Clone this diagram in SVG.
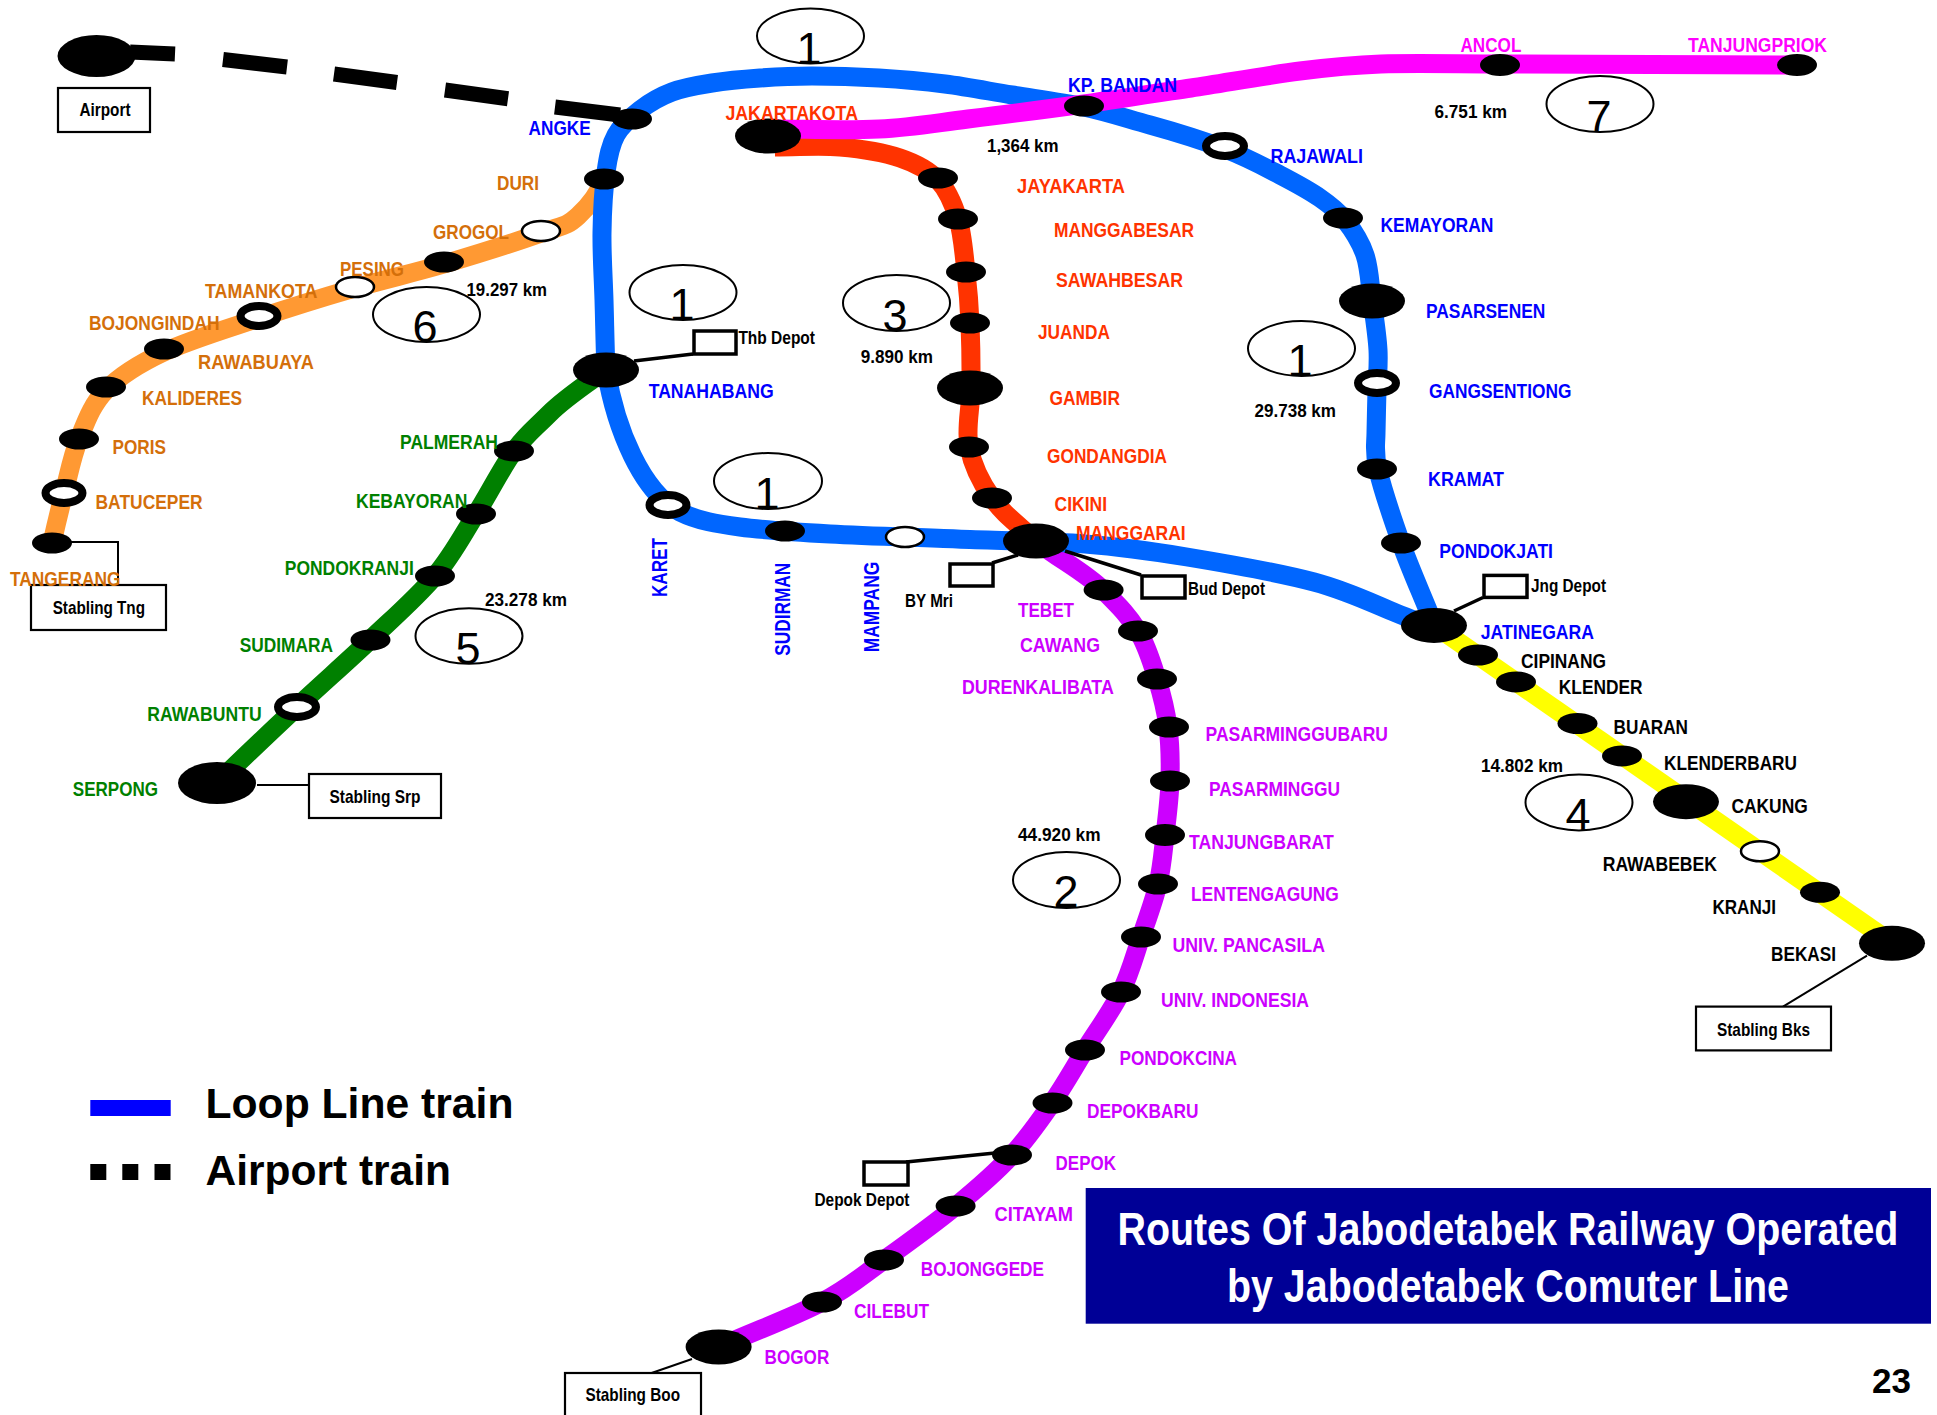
<svg xmlns="http://www.w3.org/2000/svg" width="1937" height="1415" viewBox="0 0 1937 1415">
<style>
text{font-family:"Liberation Sans",Arial,sans-serif;font-weight:bold;font-size:19.5px}
.line{fill:none;stroke-width:19;stroke-linecap:butt;stroke-linejoin:round}
.loop{stroke:#0066ff}.red{stroke:#ff3300}.mag{stroke:#ff00ff}.ora{stroke:#ff9933}.grn{stroke:#008000}.pur{stroke:#cc00ff}.yel{stroke:#ffff00}
.air{fill:none;stroke:#000;stroke-width:15}
.lk{fill:none;stroke:#000;stroke-width:2}
.lk3{fill:none;stroke:#000;stroke-width:3.5}
.st{fill:#000}
.op{fill:#fff;stroke:#000;stroke-width:2.5}
.rg{fill:#fff;stroke:#000;stroke-width:8}
.box{fill:#fff;stroke:#000;stroke-width:2.2}
.dep{fill:#fff;stroke:#000;stroke-width:3.5}
.num{fill:#fff;fill-opacity:0;stroke:#000;stroke-width:2}
.n{font-weight:normal;font-size:45px;text-anchor:middle;fill:#000}
.k{fill:#000;font-size:19px}
.d{fill:#000;font-size:18.5px}
.tb{fill:#0000ff}.tr{fill:#ff3300}.tm{fill:#ff00ff}.to{fill:#d46f0a}.tg{fill:#008000}.tp{fill:#cc00ff}.tk{fill:#000}
.v{font-size:22px}
.ti{fill:#fff;font-size:46px}
.lg{fill:#000;font-size:43px}
</style>
<rect width="1937" height="1415" fill="#fff"/>
<g id="connectors">
<path id="line-airport" class="air" d="M130,52L175,54M223,59.5L287,67M334,74L397,82.5M445,90L508,98.7M555,107L620,115"/>
<path id="line-orange" class="line ora" d="M604,179C598,195 590,205 578,216S563.3,225 541,233S475,254.8 444,264S385.8,279 355,288S290.8,307.3 259,318S189.5,340 164,352S120.2,375.5 106,390S86,421.8 79,439S68.5,475.7 64,493S56,525 52,543"/>
<path id="line-green" class="line grn" d="M606,370C585,385 565,398 549,414S526.2,434.3 514,451S489.2,493.2 476,514S452.7,555 435,576S393,618.2 370,640S322.5,683.2 297,707S243,758 217,783"/>
<path id="line-yellow" class="line yel" d="M1434,625L1892,943"/>
<path id="line-red" class="line red" d="M775,147C800,147 819.2,145.2 840,147S883.7,152.5 900,158S928.3,169.8 938,180S953.3,203.7 958,219S964,254.7 966,272S969.2,303.7 970,323S971.2,367.3 971,388S965.5,428.7 969,447S980.8,482.3 992,498S1015,522 1036,541"/>
<path id="line-purple" class="line pur" d="M1036,541C1060,560 1085,572 1103,590S1129,616.2 1138,631S1152,663 1157,679S1165.8,710 1168,727S1170.5,763 1170,781S1167,817.8 1165,835S1162,867 1158,884S1147.2,919 1141,937S1130.3,973.2 1121,992S1096.5,1031.5 1085,1050S1064.2,1085.5 1052,1103S1028,1137.8 1012,1155S977.3,1188.5 956,1206S906.3,1244 884,1260S849.5,1287.5 822,1302S760,1329 719,1347"/>
<path id="line-loop-north" class="line loop" d="M606,370C605,347 604.7,322.8 604,300S601.7,254.3 602,233S603.7,188.3 606,172S610.3,145.3 616,135S630.7,117.2 640,110S660,96.5 672,92S697.3,85.3 712,83S743.3,79.2 760,78S792.2,76 812,76S856.8,76.7 879,78S922.8,81.2 945,84S988.8,91.2 1012,95S1061,102 1084,107S1126.5,118.5 1150,125S1203.3,140.7 1225,149S1264.2,166.8 1280,175S1309.2,190.5 1320,198S1337.5,210.5 1345,220S1360.5,241.7 1365,255S1369.8,284.2 1372,300S1377.2,335 1378,350S1377.3,376.2 1377,390S1376.2,419.7 1376,433S1373.8,451.8 1378,470S1391.7,516.7 1401,543S1423,597 1434,625"/>
<path id="line-loop-south" class="line loop" d="M606,370C616,430 642,492 680,512C698,521 718,524 740,527S793.8,532 830,534S914.5,537.3 957,539S1046.7,541 1085,544S1148.8,550.7 1187,557S1279.2,572.7 1314,582S1376,605 1396,613S1420,622 1434,630"/>
<path id="line-magenta" class="line mag" d="M770,129C805,129 846,130.7 879,129S933.8,123.2 968,119S1046.8,109.2 1084,104S1155,93.5 1191,88S1268.3,75 1300,71S1347.7,65.2 1381,64S1460,64 1500,64L1797,65"/>
<path class="lk3" d="M634,361L693,354"/>
<path class="lk3" d="M992,563L1018,555"/>
<path class="lk3" d="M1065,551L1141,575"/>
<path class="lk3" d="M1454,611L1483,597.5"/>
<path class="lk3" d="M906,1162L995,1153"/>
<path class="lk" d="M71,542H118V585"/>
<path class="lk" d="M257,785H309"/>
<path class="lk" d="M1867,955.7L1783,1006.6"/>
<path class="lk" d="M651.6,1373L692,1359"/>
</g>
<g id="airport"><ellipse class="st" cx="96.5" cy="56" rx="39" ry="21"/><rect class="box" x="58" y="88" width="92" height="44"/><text class="d" x="79.5" y="116" textLength="51" lengthAdjust="spacingAndGlyphs">Airport</text></g>
<g id="st-angke"><ellipse class="st" cx="632" cy="119" rx="20" ry="10.5"/><text class="tb" x="528.6" y="134.7" textLength="62" lengthAdjust="spacingAndGlyphs">ANGKE</text></g>
<g id="st-duri"><ellipse class="st" cx="604" cy="179" rx="20" ry="10.5"/><text class="to" x="497" y="190" textLength="42" lengthAdjust="spacingAndGlyphs">DURI</text></g>
<g id="st-grogol"><ellipse class="st" cx="444" cy="262" rx="20" ry="10.5"/><ellipse class="op" cx="541" cy="231" rx="19" ry="10"/><text class="to" x="433" y="239" textLength="76" lengthAdjust="spacingAndGlyphs">GROGOL</text></g>
<g id="st-pesing"><ellipse class="op" cx="355" cy="287" rx="19" ry="10"/><text class="to" x="340" y="275.7" textLength="64" lengthAdjust="spacingAndGlyphs">PESING</text></g>
<g id="st-tamankota"><ellipse class="rg" cx="259" cy="316" rx="18.5" ry="10"/><text class="to" x="205" y="298" textLength="112.4" lengthAdjust="spacingAndGlyphs">TAMANKOTA</text></g>
<g id="st-bojongindah"><ellipse class="st" cx="164" cy="349" rx="20" ry="10.5"/><text class="to" x="89" y="330" textLength="130.6" lengthAdjust="spacingAndGlyphs">BOJONGINDAH</text></g>
<g id="st-rawabuaya"><ellipse class="st" cx="106" cy="387" rx="20" ry="10.5"/><text class="to" x="198" y="369" textLength="116" lengthAdjust="spacingAndGlyphs">RAWABUAYA</text></g>
<g id="st-kalideres"><ellipse class="st" cx="79" cy="439" rx="20" ry="10.5"/><text class="to" x="142" y="405" textLength="100" lengthAdjust="spacingAndGlyphs">KALIDERES</text></g>
<g id="st-poris"><ellipse class="rg" cx="64" cy="493" rx="18.5" ry="10"/><text class="to" x="112.5" y="454" textLength="53.5" lengthAdjust="spacingAndGlyphs">PORIS</text></g>
<g id="st-batuceper"><ellipse class="st" cx="52" cy="543" rx="20" ry="10.5"/><text class="to" x="95.5" y="509" textLength="107.2" lengthAdjust="spacingAndGlyphs">BATUCEPER</text></g>
<g id="depot-stabling-tng"><rect class="box" x="31" y="585" width="135" height="45"/><text class="d" x="52.7" y="614" textLength="92.3" lengthAdjust="spacingAndGlyphs">Stabling Tng</text></g>
<g id="st-tangerang"><text class="to" x="10" y="585.7" textLength="110.5" lengthAdjust="spacingAndGlyphs">TANGERANG</text></g>
<g id="st-tanahabang"><ellipse class="st" cx="606" cy="370" rx="33" ry="17.5"/><text class="tb" x="648.7" y="398" textLength="125" lengthAdjust="spacingAndGlyphs">TANAHABANG</text></g>
<g id="st-palmerah"><ellipse class="st" cx="514" cy="451" rx="20" ry="10.5"/><text class="tg" x="400" y="449" textLength="98" lengthAdjust="spacingAndGlyphs">PALMERAH</text></g>
<g id="st-kebayoran"><ellipse class="st" cx="476" cy="514" rx="20" ry="10.5"/><text class="tg" x="356" y="508.3" textLength="111.4" lengthAdjust="spacingAndGlyphs">KEBAYORAN</text></g>
<g id="st-pondokranji"><ellipse class="st" cx="435" cy="576" rx="20" ry="10.5"/><text class="tg" x="284.8" y="575" textLength="129" lengthAdjust="spacingAndGlyphs">PONDOKRANJI</text></g>
<g id="st-sudimara"><ellipse class="st" cx="370.5" cy="640" rx="20" ry="10.5"/><text class="tg" x="239.7" y="652" textLength="93.3" lengthAdjust="spacingAndGlyphs">SUDIMARA</text></g>
<g id="st-rawabuntu"><ellipse class="rg" cx="297" cy="707" rx="19" ry="10"/><text class="tg" x="147.3" y="721" textLength="114.3" lengthAdjust="spacingAndGlyphs">RAWABUNTU</text></g>
<g id="st-serpong"><ellipse class="st" cx="217" cy="783" rx="39" ry="21"/><text class="tg" x="72.8" y="796" textLength="85.2" lengthAdjust="spacingAndGlyphs">SERPONG</text></g>
<g id="depot-stabling-srp"><rect class="box" x="309" y="774" width="132" height="44"/><text class="d" x="329.5" y="803" textLength="91" lengthAdjust="spacingAndGlyphs">Stabling Srp</text></g>
<g id="st-karet"><ellipse class="rg" cx="668" cy="505" rx="18.5" ry="10"/><text class="tb v" transform="translate(667,597) rotate(-90)" textLength="59" lengthAdjust="spacingAndGlyphs">KARET</text></g>
<g id="st-sudirman"><ellipse class="st" cx="785" cy="531" rx="20" ry="10.5"/><text class="tb v" transform="translate(790,655.7) rotate(-90)" textLength="93" lengthAdjust="spacingAndGlyphs">SUDIRMAN</text></g>
<g id="st-mampang"><ellipse class="op" cx="905" cy="537" rx="19" ry="10"/><text class="tb v" transform="translate(879,652.3) rotate(-90)" textLength="90.6" lengthAdjust="spacingAndGlyphs">MAMPANG</text></g>
<g id="st-jakartakota"><ellipse class="st" cx="768" cy="136" rx="33" ry="17.5"/><text class="tr" x="725.4" y="120" textLength="132.6" lengthAdjust="spacingAndGlyphs">JAKARTAKOTA</text></g>
<g id="st-jayakarta"><ellipse class="st" cx="938" cy="178" rx="20" ry="10.5"/><text class="tr" x="1017" y="192.7" textLength="108" lengthAdjust="spacingAndGlyphs">JAYAKARTA</text></g>
<g id="st-manggabesar"><ellipse class="st" cx="958" cy="219" rx="20" ry="10.5"/><text class="tr" x="1054" y="236.7" textLength="140" lengthAdjust="spacingAndGlyphs">MANGGABESAR</text></g>
<g id="st-sawahbesar"><ellipse class="st" cx="966" cy="272" rx="20" ry="10.5"/><text class="tr" x="1056" y="287" textLength="127" lengthAdjust="spacingAndGlyphs">SAWAHBESAR</text></g>
<g id="st-juanda"><ellipse class="st" cx="970" cy="323" rx="20" ry="10.5"/><text class="tr" x="1038" y="339" textLength="72" lengthAdjust="spacingAndGlyphs">JUANDA</text></g>
<g id="st-gambir"><ellipse class="st" cx="970" cy="388" rx="33" ry="17.5"/><text class="tr" x="1049.5" y="405" textLength="70.5" lengthAdjust="spacingAndGlyphs">GAMBIR</text></g>
<g id="st-gondangdia"><ellipse class="st" cx="969" cy="447" rx="20" ry="10.5"/><text class="tr" x="1047" y="462.7" textLength="120" lengthAdjust="spacingAndGlyphs">GONDANGDIA</text></g>
<g id="st-cikini"><ellipse class="st" cx="992" cy="498" rx="20" ry="10.5"/><text class="tr" x="1054.6" y="510.7" textLength="52.4" lengthAdjust="spacingAndGlyphs">CIKINI</text></g>
<g id="st-kp-bandan"><ellipse class="st" cx="1084" cy="106" rx="20" ry="10.5"/><text class="tb" x="1068" y="92" textLength="109" lengthAdjust="spacingAndGlyphs">KP. BANDAN</text></g>
<g id="st-rajawali"><ellipse class="rg" cx="1225" cy="146" rx="19" ry="10"/><text class="tb" x="1270.5" y="163" textLength="92.5" lengthAdjust="spacingAndGlyphs">RAJAWALI</text></g>
<g id="st-kemayoran"><ellipse class="st" cx="1343" cy="218" rx="20" ry="10.5"/><text class="tb" x="1380.4" y="231.7" textLength="113" lengthAdjust="spacingAndGlyphs">KEMAYORAN</text></g>
<g id="st-pasarsenen"><ellipse class="st" cx="1372" cy="301" rx="33" ry="17.5"/><text class="tb" x="1426" y="317.7" textLength="119.4" lengthAdjust="spacingAndGlyphs">PASARSENEN</text></g>
<g id="st-gangsentiong"><ellipse class="rg" cx="1377" cy="383" rx="19" ry="10"/><text class="tb" x="1429" y="397.7" textLength="142.4" lengthAdjust="spacingAndGlyphs">GANGSENTIONG</text></g>
<g id="st-kramat"><ellipse class="st" cx="1377" cy="469" rx="20" ry="10.5"/><text class="tb" x="1428" y="485.7" textLength="76" lengthAdjust="spacingAndGlyphs">KRAMAT</text></g>
<g id="st-pondokjati"><ellipse class="st" cx="1401" cy="543" rx="20" ry="10.5"/><text class="tb" x="1439.3" y="557.9" textLength="113.7" lengthAdjust="spacingAndGlyphs">PONDOKJATI</text></g>
<g id="st-jatinegara"><ellipse class="st" cx="1434" cy="625.4" rx="33" ry="17.5"/><text class="tb" x="1480.8" y="638.8" textLength="113.2" lengthAdjust="spacingAndGlyphs">JATINEGARA</text></g>
<g id="st-ancol"><ellipse class="st" cx="1500" cy="65" rx="20" ry="11"/><text class="tm" x="1460.5" y="51.7" textLength="60.9" lengthAdjust="spacingAndGlyphs">ANCOL</text></g>
<g id="st-tanjungpriok"><ellipse class="st" cx="1797" cy="65" rx="20" ry="11"/><text class="tm" x="1688" y="51.7" textLength="139" lengthAdjust="spacingAndGlyphs">TANJUNGPRIOK</text></g>
<g id="st-cipinang"><ellipse class="st" cx="1478" cy="655" rx="20" ry="10.5"/><text class="tk" x="1521" y="668.1" textLength="85" lengthAdjust="spacingAndGlyphs">CIPINANG</text></g>
<g id="st-klender"><ellipse class="st" cx="1516" cy="681.9" rx="20" ry="10.5"/><text class="tk" x="1558.8" y="693.9" textLength="83.7" lengthAdjust="spacingAndGlyphs">KLENDER</text></g>
<g id="st-buaran"><ellipse class="st" cx="1577.5" cy="723.5" rx="20" ry="10.5"/><text class="tk" x="1613.6" y="733.9" textLength="74.4" lengthAdjust="spacingAndGlyphs">BUARAN</text></g>
<g id="st-klenderbaru"><ellipse class="st" cx="1622" cy="755.9" rx="20" ry="10.5"/><text class="tk" x="1664" y="769.7" textLength="133" lengthAdjust="spacingAndGlyphs">KLENDERBARU</text></g>
<g id="st-cakung"><ellipse class="st" cx="1686" cy="801.7" rx="33" ry="17.5"/><text class="tk" x="1731.4" y="812.7" textLength="76.4" lengthAdjust="spacingAndGlyphs">CAKUNG</text></g>
<g id="st-rawabebek"><ellipse class="op" cx="1760" cy="851.3" rx="19" ry="10"/><text class="tk" x="1602.7" y="870.6" textLength="114.3" lengthAdjust="spacingAndGlyphs">RAWABEBEK</text></g>
<g id="st-kranji"><ellipse class="st" cx="1820" cy="892.3" rx="20" ry="10.5"/><text class="tk" x="1712.4" y="913.7" textLength="63.6" lengthAdjust="spacingAndGlyphs">KRANJI</text></g>
<g id="st-bekasi"><ellipse class="st" cx="1892" cy="943.3" rx="33" ry="17.5"/><text class="tk" x="1771" y="960.9" textLength="65" lengthAdjust="spacingAndGlyphs">BEKASI</text></g>
<g id="depot-stabling-bks"><rect class="box" x="1696" y="1006.6" width="135" height="43.8"/><text class="d" x="1717" y="1035.9" textLength="93" lengthAdjust="spacingAndGlyphs">Stabling Bks</text></g>
<g id="st-manggarai"><ellipse class="st" cx="1036" cy="541" rx="33" ry="17.5"/><text class="tr" x="1076" y="540" textLength="109.7" lengthAdjust="spacingAndGlyphs">MANGGARAI</text></g>
<g id="st-tebet"><ellipse class="st" cx="1103.6" cy="590" rx="20" ry="10.5"/><text class="tp" x="1018" y="616.7" textLength="56" lengthAdjust="spacingAndGlyphs">TEBET</text></g>
<g id="st-cawang"><ellipse class="st" cx="1138" cy="631" rx="20" ry="10.5"/><text class="tp" x="1020" y="651.7" textLength="80" lengthAdjust="spacingAndGlyphs">CAWANG</text></g>
<g id="st-durenkalibata"><ellipse class="st" cx="1157" cy="679" rx="20" ry="10.5"/><text class="tp" x="962" y="694" textLength="151.8" lengthAdjust="spacingAndGlyphs">DURENKALIBATA</text></g>
<g id="st-pasarminggubaru"><ellipse class="st" cx="1169" cy="727" rx="20" ry="10.5"/><text class="tp" x="1205.6" y="740.7" textLength="182.4" lengthAdjust="spacingAndGlyphs">PASARMINGGUBARU</text></g>
<g id="st-pasarminggu"><ellipse class="st" cx="1170" cy="781" rx="20" ry="10.5"/><text class="tp" x="1209" y="795.7" textLength="131" lengthAdjust="spacingAndGlyphs">PASARMINGGU</text></g>
<g id="st-tanjungbarat"><ellipse class="st" cx="1165" cy="835" rx="20" ry="11"/><text class="tp" x="1189" y="848.7" textLength="144.7" lengthAdjust="spacingAndGlyphs">TANJUNGBARAT</text></g>
<g id="st-lentengagung"><ellipse class="st" cx="1158" cy="884" rx="20" ry="10.5"/><text class="tp" x="1191" y="900.7" textLength="147.8" lengthAdjust="spacingAndGlyphs">LENTENGAGUNG</text></g>
<g id="st-univ-pancasila"><ellipse class="st" cx="1141" cy="937" rx="20" ry="10.5"/><text class="tp" x="1172.4" y="951.7" textLength="152.6" lengthAdjust="spacingAndGlyphs">UNIV. PANCASILA</text></g>
<g id="st-univ-indonesia"><ellipse class="st" cx="1121" cy="992" rx="20" ry="10.5"/><text class="tp" x="1161" y="1006.7" textLength="148" lengthAdjust="spacingAndGlyphs">UNIV. INDONESIA</text></g>
<g id="st-pondokcina"><ellipse class="st" cx="1085" cy="1050" rx="20" ry="10.5"/><text class="tp" x="1119.5" y="1065" textLength="117.5" lengthAdjust="spacingAndGlyphs">PONDOKCINA</text></g>
<g id="st-depokbaru"><ellipse class="st" cx="1052.5" cy="1103" rx="20" ry="10.5"/><text class="tp" x="1087" y="1117.7" textLength="111.5" lengthAdjust="spacingAndGlyphs">DEPOKBARU</text></g>
<g id="st-depok"><ellipse class="st" cx="1012" cy="1155" rx="20" ry="10.5"/><text class="tp" x="1055.6" y="1170.3" textLength="60.4" lengthAdjust="spacingAndGlyphs">DEPOK</text></g>
<g id="st-citayam"><ellipse class="st" cx="955.6" cy="1206" rx="20" ry="10.5"/><text class="tp" x="994.5" y="1220.7" textLength="78.5" lengthAdjust="spacingAndGlyphs">CITAYAM</text></g>
<g id="st-bojonggede"><ellipse class="st" cx="884" cy="1260" rx="20" ry="10.5"/><text class="tp" x="920.8" y="1275.7" textLength="123.2" lengthAdjust="spacingAndGlyphs">BOJONGGEDE</text></g>
<g id="st-cilebut"><ellipse class="st" cx="822" cy="1302" rx="20" ry="10.5"/><text class="tp" x="854" y="1317.7" textLength="75" lengthAdjust="spacingAndGlyphs">CILEBUT</text></g>
<g id="st-bogor"><ellipse class="st" cx="718.6" cy="1347" rx="33" ry="17.5"/><text class="tp" x="764.6" y="1363.7" textLength="64.7" lengthAdjust="spacingAndGlyphs">BOGOR</text></g>
<g id="depot-stabling-boo"><rect class="box" x="565" y="1373" width="136" height="45"/><text class="d" x="585.5" y="1400.7" textLength="94.5" lengthAdjust="spacingAndGlyphs">Stabling Boo</text></g>
<g id="depot-thb"><rect class="dep" x="694" y="331" width="42" height="23"/><text class="d" x="738.4" y="344" textLength="76.6" lengthAdjust="spacingAndGlyphs">Thb Depot</text></g>
<g id="depot-by-mri"><rect class="dep" x="950" y="564" width="43" height="22"/><text class="d" x="905" y="606.7" textLength="48" lengthAdjust="spacingAndGlyphs">BY Mri</text></g>
<g id="depot-bud"><rect class="dep" x="1142" y="576" width="43" height="22"/><text class="d" x="1188" y="595" textLength="77" lengthAdjust="spacingAndGlyphs">Bud Depot</text></g>
<g id="depot-jng"><rect class="dep" x="1484" y="575.4" width="43" height="22"/><text class="d" x="1531" y="591.6" textLength="75" lengthAdjust="spacingAndGlyphs">Jng Depot</text></g>
<g id="depot-depok"><rect class="dep" x="864" y="1162" width="44" height="23"/><text class="d" x="814.5" y="1206" textLength="95" lengthAdjust="spacingAndGlyphs">Depok Depot</text></g>
<g id="route-1-top"><ellipse class="num" cx="810.5" cy="36" rx="53.5" ry="27.5"/><text class="n" x="809" y="64">1</text></g>
<g id="route-1-west"><ellipse class="num" cx="683" cy="292.5" rx="53.5" ry="27.5"/><text class="n" x="682" y="320">1</text></g>
<g id="route-1-east"><ellipse class="num" cx="1301.5" cy="348.5" rx="53.5" ry="27.5"/><text class="n" x="1300" y="376">1</text></g>
<g id="route-1-south"><ellipse class="num" cx="768" cy="481" rx="54" ry="28"/><text class="n" x="767" y="509">1</text></g>
<g id="route-2"><ellipse class="num" cx="1066.5" cy="880" rx="53.5" ry="28"/><text class="n" x="1066" y="907">2</text></g>
<g id="route-3"><ellipse class="num" cx="896.5" cy="303" rx="53.5" ry="28"/><text class="n" x="895" y="331">3</text></g>
<g id="route-4"><ellipse class="num" cx="1579" cy="802.4" rx="53.5" ry="28"/><text class="n" x="1578" y="830">4</text></g>
<g id="route-5"><ellipse class="num" cx="469" cy="636" rx="53.5" ry="27.7"/><text class="n" x="468" y="664">5</text></g>
<g id="route-6"><ellipse class="num" cx="426.5" cy="314.5" rx="53.5" ry="27.5"/><text class="n" x="425" y="342">6</text></g>
<g id="route-7"><ellipse class="num" cx="1600" cy="104" rx="53.5" ry="28"/><text class="n" x="1599" y="132">7</text></g>
<g id="distances">
<text class="k" x="466.5" y="296" textLength="80.5" lengthAdjust="spacingAndGlyphs">19.297 km</text>
<text class="k" x="987" y="151.7" textLength="71.5" lengthAdjust="spacingAndGlyphs">1,364 km</text>
<text class="k" x="860.7" y="363.3" textLength="72.3" lengthAdjust="spacingAndGlyphs">9.890 km</text>
<text class="k" x="1254.5" y="416.7" textLength="81.5" lengthAdjust="spacingAndGlyphs">29.738 km</text>
<text class="k" x="1434.5" y="117.7" textLength="72.5" lengthAdjust="spacingAndGlyphs">6.751 km</text>
<text class="k" x="1481" y="772.1" textLength="82" lengthAdjust="spacingAndGlyphs">14.802 km</text>
<text class="k" x="485" y="606" textLength="82" lengthAdjust="spacingAndGlyphs">23.278 km</text>
<text class="k" x="1018" y="841" textLength="82.5" lengthAdjust="spacingAndGlyphs">44.920 km</text>
</g>
<g id="legend">
<rect x="90.3" y="1100" width="80.4" height="16" fill="#0000ff"/>
<text class="lg" x="205.5" y="1118.3" textLength="308" lengthAdjust="spacingAndGlyphs">Loop Line train</text>
<rect x="90.3" y="1164" width="16" height="16"/><rect x="122.3" y="1164" width="16" height="16"/><rect x="154.5" y="1164" width="16" height="16"/>
<text class="lg" x="205.5" y="1185" textLength="245.5" lengthAdjust="spacingAndGlyphs">Airport train</text>
</g>
<g id="title">
<rect x="1085.7" y="1188" width="845.3" height="135.7" fill="#000096"/>
<text class="ti" transform="translate(1117.5,1245) scale(.86,1)" textLength="908" lengthAdjust="spacingAndGlyphs">Routes Of Jabodetabek Railway Operated</text>
<text class="ti" x="1227" y="1301.7" textLength="562" lengthAdjust="spacingAndGlyphs">by Jabodetabek Comuter Line</text>
</g>
<text id="page-number" x="1872" y="1393.3" style="font-size:35px" textLength="39" lengthAdjust="spacingAndGlyphs">23</text>
</svg>
